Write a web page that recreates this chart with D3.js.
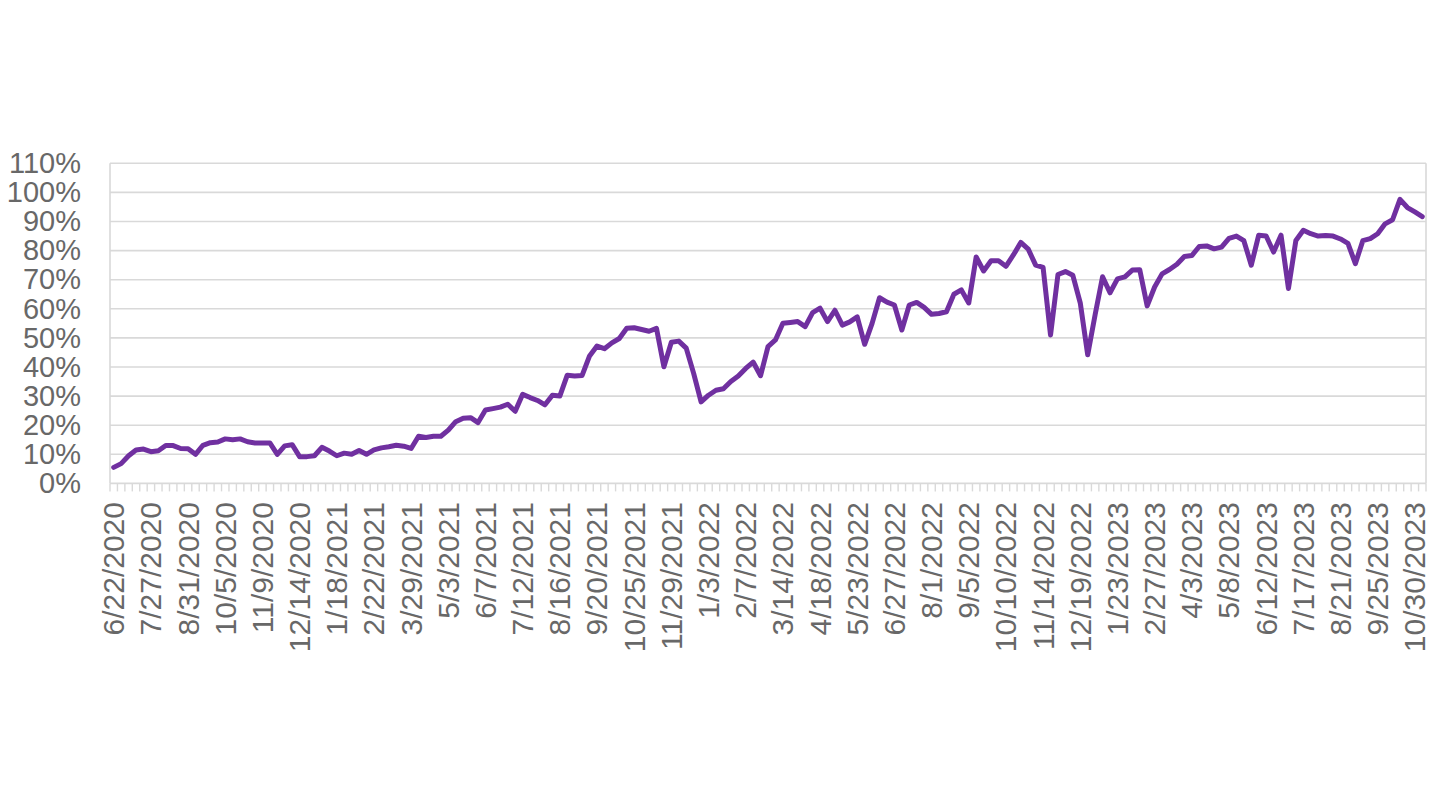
<!DOCTYPE html>
<html>
<head>
<meta charset="utf-8">
<script src="https://cdn.jsdelivr.net/npm/d3@7"></script>
<style>
  html, body { margin: 0; padding: 0; background: #ffffff; }
  svg { display: block; }
</style>
</head>
<body>
<svg id="chart" width="1440" height="810"></svg>
<script>
// ---- Data ----
const startDate = "2020-06-22"; // weekly categories (Mondays)
const weekCount = 177;

const values = [
  5.5, 6.8, 9.5, 11.5, 11.8, 10.9, 11.2, 13.0, 13.0, 12.0,
  11.9, 10.0, 13.1, 14.0, 14.2, 15.3, 15.0, 15.3, 14.3, 13.9,
  13.9, 13.9, 10.0, 12.9, 13.3, 9.2, 9.2, 9.5, 12.4, 11.1,
  9.5, 10.4, 10.0, 11.3, 10.0, 11.5, 12.2, 12.6, 13.1, 12.8,
  12.0, 16.2, 15.8, 16.2, 16.2, 18.3, 21.2, 22.4, 22.6, 20.9,
  25.2, 25.7, 26.2, 27.2, 24.8, 30.6, 29.5, 28.5, 27.0, 30.3,
  30.0, 37.2, 36.9, 37.1, 43.8, 47.2, 46.3, 48.3, 49.8, 53.3,
  53.5, 52.9, 52.3, 53.3, 40.1, 48.5, 48.9, 46.5, 37.8, 28.0,
  30.3, 32.0, 32.5, 35.0, 36.9, 39.5, 41.7, 37.0, 47.0, 49.3,
  55.0, 55.3, 55.6, 53.9, 58.7, 60.2, 55.6, 59.5, 54.4, 55.5,
  57.2, 47.8, 55.0, 63.8, 62.3, 61.3, 52.7, 61.3, 62.2, 60.5,
  58.1, 58.4, 59.0, 65.0, 66.5, 62.0, 77.8, 73.0, 76.5, 76.5,
  74.6, 78.5, 82.8, 80.5, 75.0, 74.2, 51.0, 71.8, 72.8, 71.5,
  62.0, 44.2, 58.0, 71.0, 65.5, 70.3, 71.0, 73.3, 73.4, 61.0,
  67.5, 72.0, 73.5, 75.3, 78.0, 78.3, 81.4, 81.6, 80.6, 81.2,
  84.2, 85.0, 83.4, 75.0, 85.3, 85.0, 79.5, 85.3, 67.0, 83.5,
  87.0, 85.8, 85.0, 85.2, 85.0, 84.0, 82.5, 75.5, 83.4, 84.1,
  85.8, 89.2, 90.6, 97.6, 94.8, 93.3, 91.7
];

const tickLabels = [
  "6/22/2020", "7/27/2020", "8/31/2020", "10/5/2020", "11/9/2020", "12/14/2020",
  "1/18/2021", "2/22/2021", "3/29/2021", "5/3/2021", "6/7/2021", "7/12/2021",
  "8/16/2021", "9/20/2021", "10/25/2021", "11/29/2021", "1/3/2022", "2/7/2022",
  "3/14/2022", "4/18/2022", "5/23/2022", "6/27/2022", "8/1/2022", "9/5/2022",
  "10/10/2022", "11/14/2022", "12/19/2022", "1/23/2023", "2/27/2023", "4/3/2023",
  "5/8/2023", "6/12/2023", "7/17/2023", "8/21/2023", "9/25/2023", "10/30/2023"
];

const yTicks = [0, 10, 20, 30, 40, 50, 60, 70, 80, 90, 100, 110];

// ---- Build categories ----
const parse = d3.utcParse("%Y-%m-%d");
const fmt = d3.utcFormat("%-m/%-d/%Y");
const categories = d3.range(weekCount).map(i => fmt(d3.utcDay.offset(parse(startDate), 7 * i)));
const data = categories.map((c, i) => ({ cat: c, v: values[i] }));

// ---- Layout ----
const L = 110, R = 1426, T = 163.3, B = 483.4;
const svg = d3.select("#chart");
svg.append("rect").attr("width", 1440).attr("height", 810).attr("fill", "#ffffff");

const x = d3.scaleBand().domain(categories).range([L, R]).paddingInner(0).paddingOuter(0);
const y = d3.scaleLinear().domain([0, 110]).range([B, T]);
const bw = x.bandwidth();

const textColor = "#686868";
const gridColor = "#d9d9d9";
const font = "'Liberation Sans', Arial, sans-serif";

// Gridlines
svg.append("g").selectAll("line").data(yTicks.filter(d => d > 0)).join("line")
  .attr("x1", L).attr("x2", R)
  .attr("y1", d => y(d)).attr("y2", d => y(d))
  .attr("stroke", gridColor).attr("stroke-width", 1.6);

// Plot borders (left & right)
svg.append("line").attr("x1", L).attr("x2", L).attr("y1", T).attr("y2", B)
  .attr("stroke", gridColor).attr("stroke-width", 1.6);
svg.append("line").attr("x1", R).attr("x2", R).attr("y1", T).attr("y2", B)
  .attr("stroke", gridColor).attr("stroke-width", 1.6);

// X axis line and ticks at category boundaries
svg.append("line").attr("x1", L).attr("x2", R).attr("y1", B).attr("y2", B)
  .attr("stroke", gridColor).attr("stroke-width", 1.6);
const boundaries = categories.map(c => x(c)).concat([R]);
svg.append("g").selectAll("line").data(boundaries).join("line")
  .attr("x1", d => d).attr("x2", d => d)
  .attr("y1", B).attr("y2", B + 8)
  .attr("stroke", gridColor).attr("stroke-width", 1.4);

// Y axis labels
const yAxis = d3.axisLeft(y).tickValues(yTicks).tickFormat(d => d + "%").tickSize(0).tickPadding(29);
const yg = svg.append("g").attr("transform", `translate(${L},0)`).call(yAxis);
yg.select(".domain").remove();
yg.selectAll("text").attr("fill", textColor).style("font-family", font).style("font-size", "29px");

// X axis labels (rotated)
const labelCats = categories.filter(c => tickLabels.includes(c));
svg.append("g").selectAll("text").data(labelCats).join("text")
  .attr("transform", d => `translate(${x(d) + bw / 2},502) rotate(-90)`)
  .attr("text-anchor", "end")
  .attr("dominant-baseline", "central")
  .attr("fill", textColor)
  .style("font-family", font)
  .style("font-size", "30px")
  .text(d => d);

// Line
const line = d3.line()
  .x(d => x(d.cat) + bw / 2)
  .y(d => y(d.v));
svg.append("path").datum(data)
  .attr("d", line)
  .attr("fill", "none")
  .attr("stroke", "#7030A0")
  .attr("stroke-width", 5)
  .attr("stroke-linejoin", "round")
  .attr("stroke-linecap", "round");
</script>
</body>
</html>
